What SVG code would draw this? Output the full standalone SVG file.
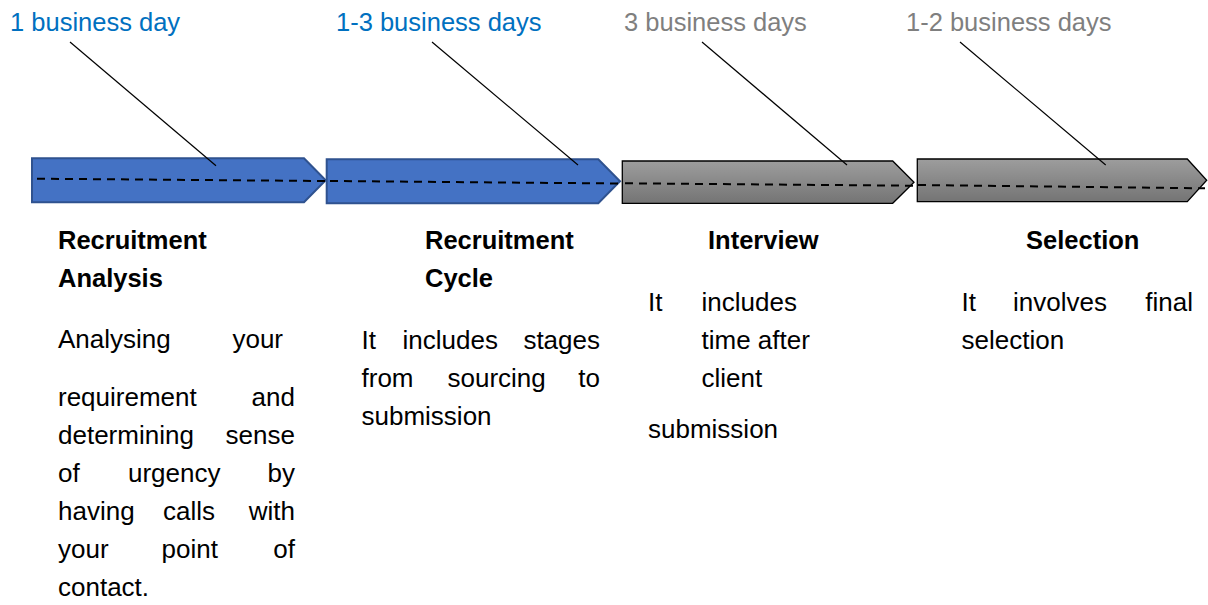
<svg xmlns="http://www.w3.org/2000/svg" width="1208" height="605" viewBox="0 0 1208 605">
  <defs>
    <linearGradient id="grayGrad" x1="0" y1="0" x2="0" y2="1">
      <stop offset="0" stop-color="#9d9d9d"/>
      <stop offset="1" stop-color="#747474"/>
    </linearGradient>
    <style>
      .t { font-family: "Liberation Sans", Arial, sans-serif; font-size: 26px; fill: #000000; }
      .h { font-family: "Liberation Sans", Arial, sans-serif; font-size: 25.5px; font-weight: bold; fill: #000000; }
      .lblBlue { font-family: "Liberation Sans", Arial, sans-serif; font-size: 25.5px; fill: #0070C0; }
      .lblGray { font-family: "Liberation Sans", Arial, sans-serif; font-size: 25.5px; fill: #7F7F7F; }
      .blue { fill: #4472C4; stroke: #2F528F; stroke-width: 2; }
      .gray { fill: url(#grayGrad); stroke: #000000; stroke-width: 1.3; }
      .dash { stroke: #000000; stroke-width: 2; stroke-dasharray: 8 6; fill: none; }
      .lead { stroke: #000000; stroke-width: 1.2; fill: none; }
      .end { text-anchor: end; }
    </style>
  </defs>
  <rect x="0" y="0" width="1208" height="605" fill="#ffffff"/>

  <g id="node-recruitment-analysis">
    <polygon class="blue" points="32,158.3 304,158.3 325.7,180.3 304,202.3 32,202.3"/>
    <text class="lblBlue" x="10" y="31">1 business day</text>
    <text class="h" x="58" y="249">Recruitment</text>
    <text class="h" x="58" y="287">Analysis</text>
    <text class="t" y="348"><tspan x="58">Analysing</tspan><tspan x="283" class="end">your</tspan></text>
    <text class="t" y="406"><tspan x="58">requirement</tspan><tspan x="295" class="end">and</tspan></text>
    <text class="t" y="444"><tspan x="58">determining</tspan><tspan x="295" class="end">sense</tspan></text>
    <text class="t" y="482"><tspan x="58">of</tspan><tspan x="128">urgency</tspan><tspan x="295" class="end">by</tspan></text>
    <text class="t" y="520"><tspan x="58">having</tspan><tspan x="163">calls</tspan><tspan x="295" class="end">with</tspan></text>
    <text class="t" y="558"><tspan x="58">your</tspan><tspan x="161.5">point</tspan><tspan x="295" class="end">of</tspan></text>
    <text class="t" x="58" y="596">contact.</text>
  </g>

  <g id="node-recruitment-cycle">
    <polygon class="blue" points="326.7,159.3 598.3,159.3 620,181.3 598.3,203.3 326.7,203.3"/>
    <text class="lblBlue" x="336" y="31">1-3 business days</text>
    <text class="h" x="425" y="249">Recruitment</text>
    <text class="h" x="425" y="287">Cycle</text>
    <text class="t" y="349"><tspan x="361.5">It</tspan><tspan x="402.5">includes</tspan><tspan x="600" class="end">stages</tspan></text>
    <text class="t" y="387"><tspan x="361.5">from</tspan><tspan x="447.5">sourcing</tspan><tspan x="600" class="end">to</tspan></text>
    <text class="t" x="361.5" y="425">submission</text>
  </g>

  <g id="node-interview">
    <polygon class="gray" points="622.3,161 892.7,161 914,182.2 892.7,203.3 622.3,203.3"/>
    <text class="lblGray" x="624" y="31">3 business days</text>
    <text class="h" x="708" y="249">Interview</text>
    <text class="t" y="311"><tspan x="648">It</tspan><tspan x="701.5">includes</tspan></text>
    <text class="t" x="701.5" y="349">time after</text>
    <text class="t" x="701.5" y="387">client</text>
    <text class="t" x="648" y="438">submission</text>
  </g>

  <g id="node-selection">
    <polygon class="gray" points="917.3,159 1187.3,159 1206.7,180.3 1187.3,201.7 917.3,201.7"/>
    <text class="lblGray" x="906" y="31">1-2 business days</text>
    <text class="h" x="1026" y="249">Selection</text>
    <text class="t" y="311"><tspan x="961.5">It</tspan><tspan x="1013">involves</tspan><tspan x="1193" class="end">final</tspan></text>
    <text class="t" x="961.5" y="349">selection</text>
  </g>

  <g id="connectors">
    <line class="dash" x1="37" y1="178.7" x2="325" y2="181"/>
    <line class="dash" x1="330" y1="181" x2="620" y2="183.5"/>
    <line class="dash" x1="625" y1="183.3" x2="914" y2="185.7"/>
    <line class="dash" x1="918" y1="185" x2="1205" y2="188.3"/>
    <line class="lead" x1="70" y1="42" x2="216" y2="165.7"/>
    <line class="lead" x1="432" y1="42" x2="578" y2="165"/>
    <line class="lead" x1="702" y1="42" x2="847" y2="165"/>
    <line class="lead" x1="960" y1="42" x2="1105.7" y2="165"/>
  </g>
</svg>
